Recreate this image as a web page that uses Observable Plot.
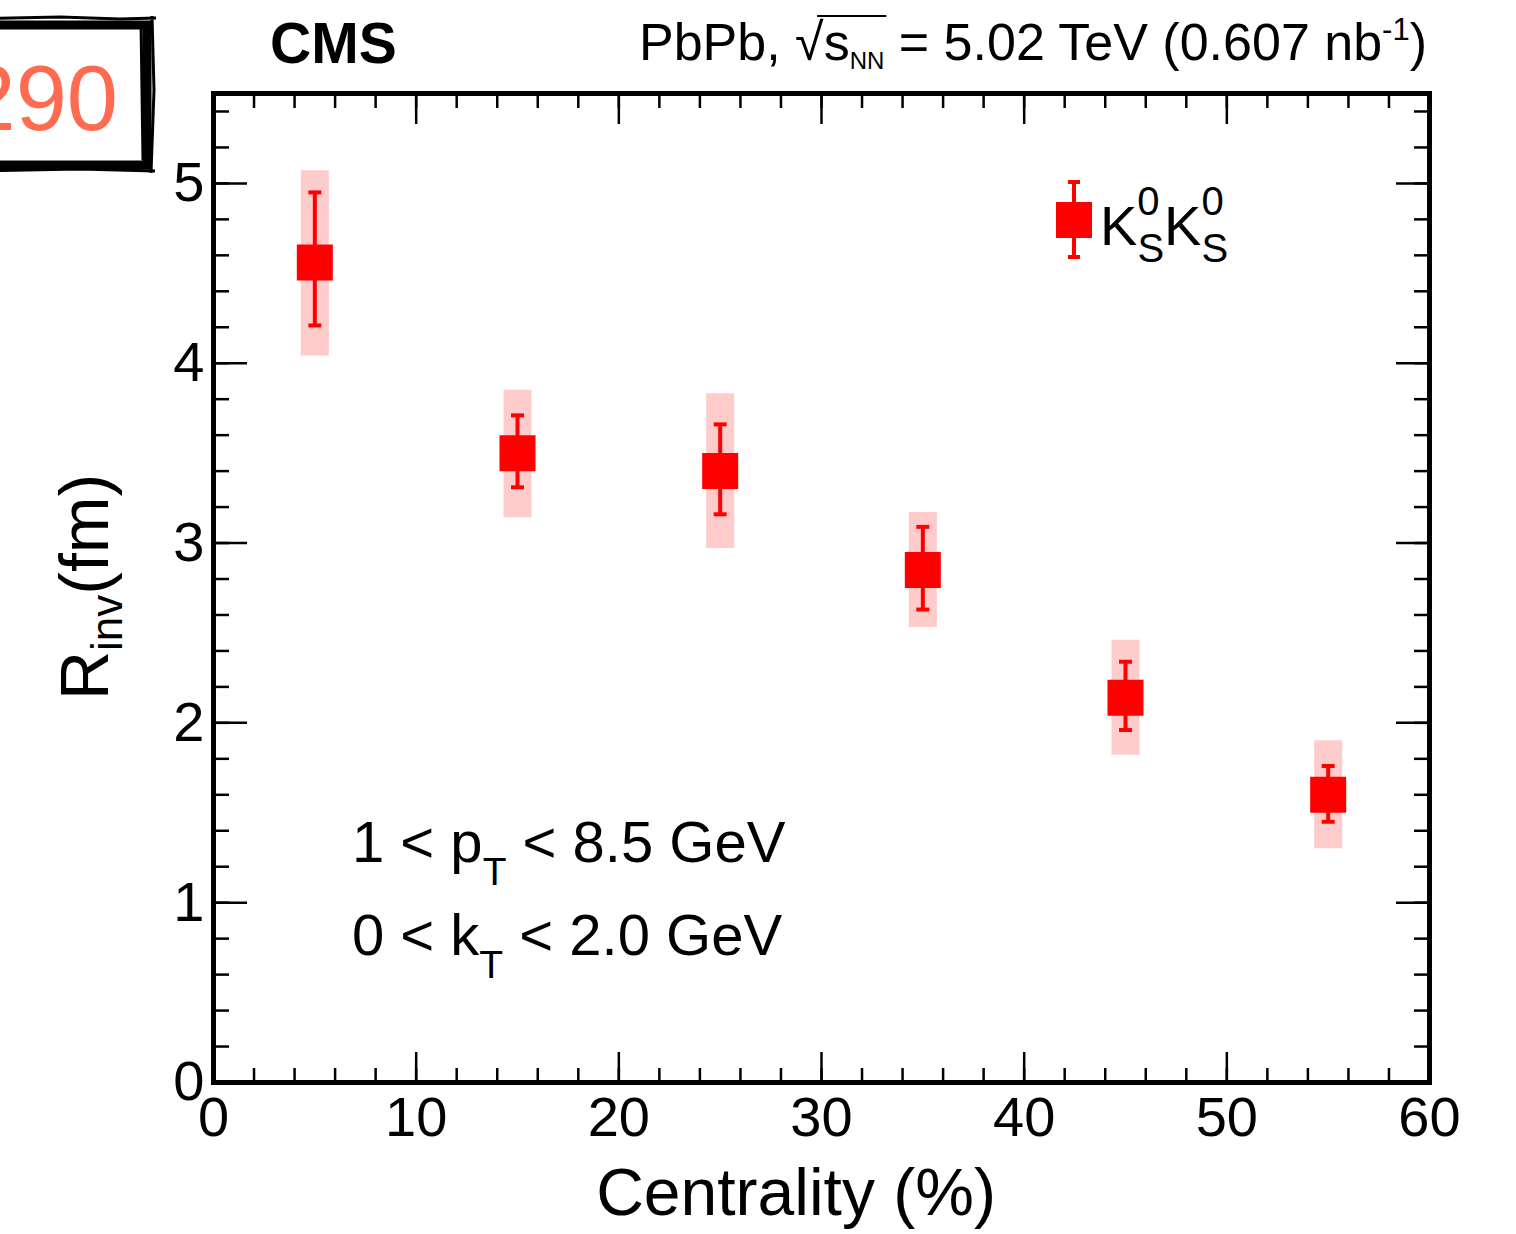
<!DOCTYPE html>
<html>
<head>
<meta charset="utf-8">
<script src="https://cdn.jsdelivr.net/npm/d3@7"></script>
<script src="https://cdn.jsdelivr.net/npm/@observablehq/plot@0.6"></script>
<style>
  html, body { margin: 0; padding: 0; background: #fff; }
  #chart { position: relative; width: 1516px; height: 1234px; overflow: hidden; }
  svg { font-family: "Liberation Sans", Arial, Helvetica, sans-serif; }
</style>
</head>
<body>
<div id="chart"></div>
<script>
// ---- data ----
const centrality = [5, 15, 25, 35, 45, 55];
const rinv       = [4.56, 3.50, 3.40, 2.85, 2.14, 1.60];
const statLo     = [4.21, 3.31, 3.16, 2.63, 1.96, 1.45];
const statHi     = [4.95, 3.71, 3.66, 3.09, 2.34, 1.76];
const sysLo      = [4.04, 3.14, 2.97, 2.53, 1.82, 1.30];
const sysHi      = [5.07, 3.85, 3.83, 3.17, 2.46, 1.90];

const xMajor = [0, 10, 20, 30, 40, 50, 60];
const xMinor = d3.range(0, 60.001, 2);
const yMajor = [0, 1, 2, 3, 4, 5];
const yMinor = d3.range(0, 5.5001, 0.2).map(v => +v.toFixed(1));

const data = centrality.map((c, i) => ({
  x: c, y: rinv[i], sLo: statLo[i], sHi: statHi[i], yLo: sysLo[i], yHi: sysHi[i]
}));

const RED = "#ff0000";
const PINK = "#ffcccc";
const FONT = "Liberation Sans, Arial, Helvetica, sans-serif";

const capSymbol = {
  draw(context, size) {
    const w = Math.sqrt(size) / 2;
    context.moveTo(-w, 0);
    context.lineTo(w, 0);
  }
};

const tickStyle = {stroke: "#000", strokeWidth: 2.5, fill: "none", label: null};

const plot = Plot.plot({
  width: 1516,
  height: 1234,
  marginLeft: 213,
  marginRight: 87,
  marginTop: 93,
  marginBottom: 152,
  style: {fontFamily: FONT, background: "#fff", overflow: "visible"},
  x: {domain: [0, 60]},
  y: {domain: [0, 5.5]},
  marks: [
    // systematic boxes
    Plot.ruleX(data, {x: "x", y1: "yLo", y2: "yHi", stroke: PINK, strokeWidth: 28}),
    // statistical error bars
    Plot.ruleX(data, {x: "x", y1: "sLo", y2: "sHi", stroke: RED, strokeWidth: 4}),
    Plot.dot(data, {x: "x", y: "sLo", symbol: capSymbol, r: 13 / Math.sqrt(Math.PI), stroke: RED, strokeWidth: 4}),
    Plot.dot(data, {x: "x", y: "sHi", symbol: capSymbol, r: 13 / Math.sqrt(Math.PI), stroke: RED, strokeWidth: 4}),
    // markers
    Plot.dot(data, {x: "x", y: "y", symbol: "square", r: 36 / Math.sqrt(Math.PI), fill: RED, stroke: "none"}),
    // inward ticks
    Plot.axisX(xMajor, {...tickStyle, anchor: "bottom", tickSize: -30}),
    Plot.axisX(xMinor, {...tickStyle, anchor: "bottom", tickSize: -14}),
    Plot.axisX(xMajor, {...tickStyle, anchor: "top", tickSize: -30}),
    Plot.axisX(xMinor, {...tickStyle, anchor: "top", tickSize: -14}),
    Plot.axisY(yMajor, {...tickStyle, anchor: "left", tickSize: -34}),
    Plot.axisY(yMinor, {...tickStyle, anchor: "left", tickSize: -16}),
    Plot.axisY(yMajor, {...tickStyle, anchor: "right", tickSize: -34}),
    Plot.axisY(yMinor, {...tickStyle, anchor: "right", tickSize: -16}),
    // tick labels
    Plot.axisX(xMajor, {anchor: "bottom", tickSize: 0, tickPadding: 14, fontSize: 56, fill: "#000", label: null, tickFormat: d => String(d)}),
    Plot.axisY(yMajor, {anchor: "left", tickSize: 0, tickPadding: 9, fontSize: 56, fill: "#000", label: null, tickFormat: d => String(d)}),
    Plot.frame({stroke: "#000", strokeWidth: 5})
  ]
});

document.getElementById("chart").appendChild(plot);
const svg = d3.select(plot);

function addText(x, y, parts, opts = {}) {
  const t = svg.append("text")
    .attr("x", x).attr("y", y)
    .attr("font-family", FONT)
    .attr("font-size", opts.size || 56)
    .attr("font-weight", opts.weight || "normal")
    .attr("fill", opts.fill || "#000")
    .attr("text-anchor", opts.anchor || "start");
  if (opts.transform) t.attr("transform", opts.transform).attr("x", 0).attr("y", 0);
  for (const p of parts) {
    const s = t.append("tspan").text(p.text);
    if (p.size) s.attr("font-size", p.size);
    if (p.dy) s.attr("dy", p.dy);
    if (p.dx) s.attr("dx", p.dx);
  }
  return t;
}

// CMS label
addText(270, 63, [{text: "CMS"}], {size: 57, weight: "bold"});

// header
const hdr = addText(1427, 60, [
  {text: "PbPb, √"},
  {text: "s"},
  {text: "NN", size: 24, dy: 9},
  {text: " = 5.02 TeV (0.607 nb", dy: -9},
  {text: "-1", size: 31, dy: -20},
  {text: ")", dy: 20}
], {size: 52, anchor: "end"});
{
  const node = hdr.node();
  const xs = node.getStartPositionOfChar(6).x + 22;
  const xe = node.getEndPositionOfChar(9).x + 2;
  svg.append("line").attr("x1", xs).attr("x2", xe).attr("y1", 16).attr("y2", 16)
    .attr("stroke", "#000").attr("stroke-width", 2.2);
}

// annotations
addText(352, 862, [
  {text: "1 < p"},
  {text: "T", size: 39, dy: 23},
  {text: " < 8.5 GeV", dy: -23}
], {size: 58});
addText(352, 955, [
  {text: "0 < k"},
  {text: "T", size: 39, dy: 23},
  {text: " < 2.0 GeV", dy: -23}
], {size: 58});

// axis titles
addText(796, 1215, [{text: "Centrality (%)"}], {size: 66, anchor: "middle"});
addText(0, 0, [
  {text: "R"},
  {text: "inv", size: 44, dy: 14},
  {text: "(fm)", dy: -14}
], {size: 68, anchor: "middle", transform: "translate(108,587) rotate(-90)"});

// legend
const lg = svg.append("g");
lg.append("line").attr("x1", 1074).attr("x2", 1074).attr("y1", 182).attr("y2", 257).attr("stroke", RED).attr("stroke-width", 4);
lg.append("line").attr("x1", 1068).attr("x2", 1080).attr("y1", 182).attr("y2", 182).attr("stroke", RED).attr("stroke-width", 4);
lg.append("line").attr("x1", 1068).attr("x2", 1080).attr("y1", 257).attr("y2", 257).attr("stroke", RED).attr("stroke-width", 4);
lg.append("rect").attr("x", 1056).attr("y", 202).attr("width", 36).attr("height", 36).attr("fill", RED);
addText(1100, 245, [
  {text: "K"},
  {text: "0", size: 40, dy: -30},
  {text: "S", size: 40, dx: -22.2, dy: 47},
  {text: "K", dy: -17},
  {text: "0", size: 40, dy: -30},
  {text: "S", size: 40, dx: -22.2, dy: 47}
], {size: 56});

// stamp in top-left corner
const st = svg.append("g");
st.append("rect").attr("x", -30).attr("y", 25).attr("width", 177).attr("height", 140)
  .attr("fill", "none").attr("stroke", "#000").attr("stroke-width", 9);
st.append("path").attr("d", "M-30,19 L60,17 L120,19 L156,18 M152,16 L154,90 L151,173 M-30,171 L80,169 L155,171 M141,22 L143,160")
  .attr("fill", "none").attr("stroke", "#000").attr("stroke-width", 3);
addText(118, 130, [{text: "290"}], {size: 92, anchor: "end", fill: "#ff6a50"});
</script>
</body>
</html>
